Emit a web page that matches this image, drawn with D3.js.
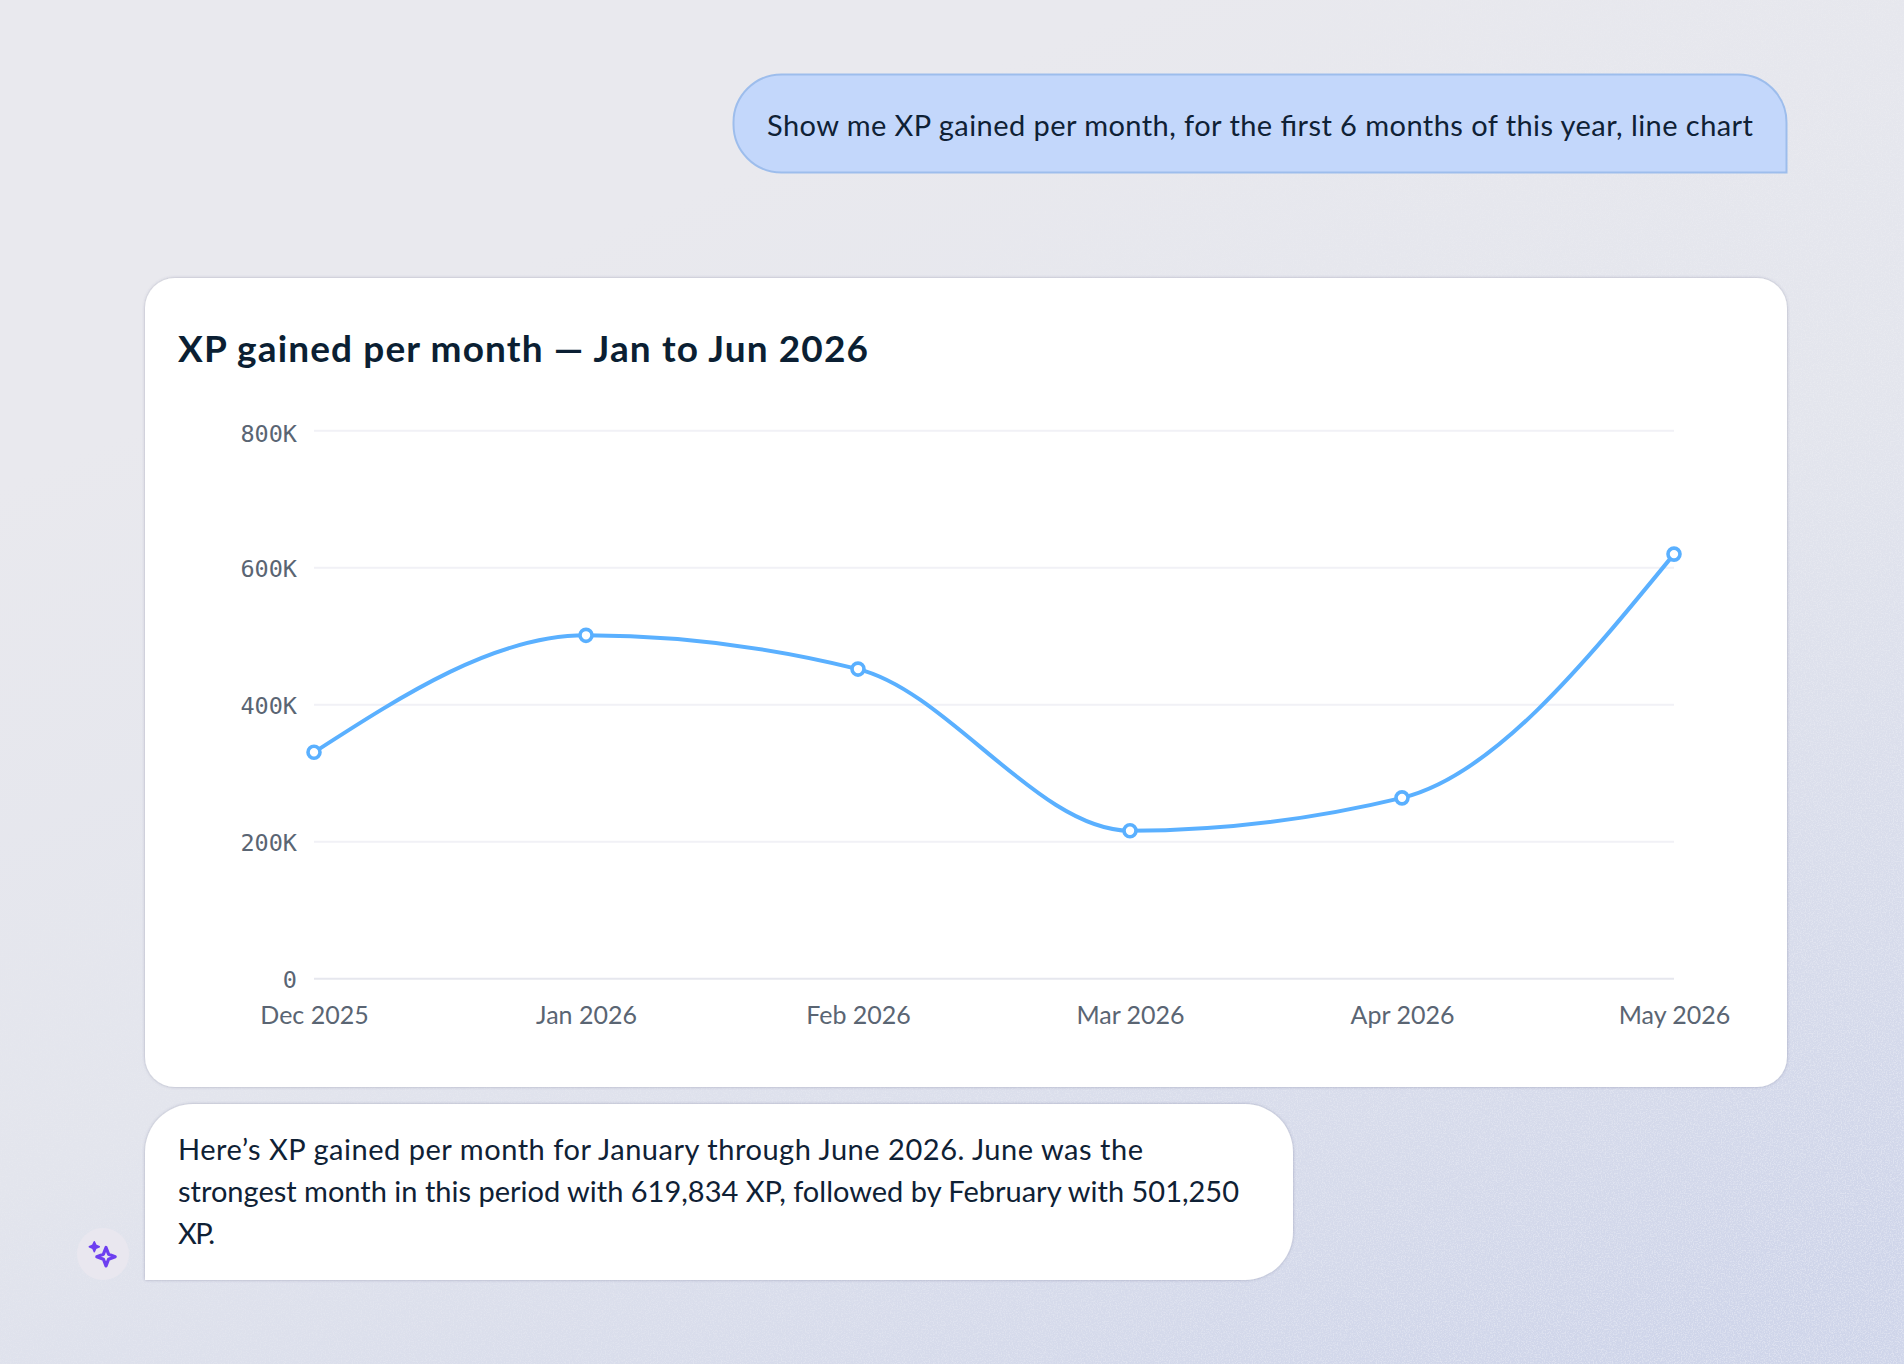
<!DOCTYPE html>
<html>
<head>
<meta charset="utf-8">
<script src="https://cdn.jsdelivr.net/npm/d3@7"></script>
<style>
  html, body { margin: 0; padding: 0; background: #e9e9ee; }
  svg { display: block; }
  .body-text { font-family: "Lato", sans-serif; font-size: 29px; fill: #0f2135; }
  .title { font-family: "Lato", sans-serif; font-size: 37px; font-weight: 700; fill: #0b1f33; }
  .x-axis text { font-family: "Lato", sans-serif; font-size: 25px; fill: #5a6573; }
  .y-axis text { font-family: "DejaVu Sans Mono", monospace; font-size: 23.5px; fill: #5a6573; }
</style>
</head>
<body>
<div id="chart"></div>
<script>
const months = ["Dec 2025", "Jan 2026", "Feb 2026", "Mar 2026", "Apr 2026", "May 2026"];
const xpValues = [330500, 501250, 452000, 216000, 264000, 619834];
const yTicks = [0, 200000, 400000, 600000, 800000];

const question = "Show me XP gained per month, for the first 6 months of this year, line chart";
const chartTitle = "XP gained per month \u2014 Jan to Jun 2026";
const answerLines = [
  "Here\u2019s XP gained per month for January through June 2026. June was the",
  "strongest month in this period with 619,834 XP, followed by February with 501,250",
  "XP."
];
const answerWidths = [965, 1061, 37];

const width = 1904, height = 1364;

const svg = d3.select("#chart").append("svg")
  .attr("width", width)
  .attr("height", height);

const defs = svg.append("defs");
const bg = defs.append("linearGradient").attr("id", "bg")
  .attr("x1", 0.35).attr("y1", 0.15).attr("x2", 0.85).attr("y2", 1);
bg.append("stop").attr("offset", "0%").attr("stop-color", "#e9e9ee");
bg.append("stop").attr("offset", "45%").attr("stop-color", "#e3e5ed");
bg.append("stop").attr("offset", "100%").attr("stop-color", "#cfd5ea");

// grain of the backdrop, stronger towards the bottom right
const grain = defs.append("filter").attr("id", "grain")
  .attr("x", 0).attr("y", 0).attr("width", 1).attr("height", 1);
grain.append("feTurbulence")
  .attr("type", "fractalNoise")
  .attr("baseFrequency", 0.75)
  .attr("numOctaves", 2)
  .attr("seed", 4);
grain.append("feColorMatrix")
  .attr("values", "0 0 0 0 1  0 0 0 0 1  0 0 0 0 1  3.5 0 0 0 -1.5");

const fade = defs.append("linearGradient").attr("id", "fade")
  .attr("x1", 0.2).attr("y1", 0.3).attr("x2", 0.9).attr("y2", 1);
fade.append("stop").attr("offset", "0%").attr("stop-color", "#000");
fade.append("stop").attr("offset", "100%").attr("stop-color", "#fff");
defs.append("mask").attr("id", "grainMask")
  .append("rect").attr("width", width).attr("height", height).attr("fill", "url(#fade)");

const soft = defs.append("filter").attr("id", "soft")
  .attr("x", "-5%").attr("y", "-5%").attr("width", "110%").attr("height", "110%");
soft.append("feDropShadow")
  .attr("dx", 0).attr("dy", 0)
  .attr("stdDeviation", 1.4)
  .attr("flood-color", "#50557a")
  .attr("flood-opacity", 0.4);

svg.append("rect").attr("width", width).attr("height", height).attr("fill", "url(#bg)");
svg.append("g").attr("mask", "url(#grainMask)")
  .append("rect").attr("width", width).attr("height", height)
  .attr("filter", "url(#grain)")
  .attr("opacity", 0.3);

// rounded box where each corner has its own radius
function bubble(x, y, w, h, r) {
  const [tl, tr, br, bl] = r;
  return `M${x + tl},${y}H${x + w - tr}A${tr},${tr} 0 0 1 ${x + w},${y + tr}` +
    `V${y + h - br}A${br},${br} 0 0 1 ${x + w - br},${y + h}` +
    `H${x + bl}A${bl},${bl} 0 0 1 ${x},${y + h - bl}` +
    `V${y + tl}A${tl},${tl} 0 0 1 ${x + tl},${y}Z`;
}

// question bubble
svg.append("path")
  .attr("d", bubble(733.5, 74.5, 1053, 98, [48, 48, 0, 48]))
  .attr("fill", "#c3d7fb")
  .attr("stroke", "#9dbdec")
  .attr("stroke-width", 2);

svg.append("text")
  .attr("class", "body-text")
  .attr("x", 767)
  .attr("y", 135.5)
  .attr("textLength", 986)
  .text(question);

// chart card
svg.append("rect")
  .attr("x", 145).attr("y", 278)
  .attr("width", 1642).attr("height", 809)
  .attr("rx", 30)
  .attr("fill", "#fff")
  .attr("filter", "url(#soft)");

svg.append("text")
  .attr("class", "title")
  .attr("x", 178)
  .attr("y", 362)
  .attr("textLength", 690)
  .text(chartTitle);

const x = d3.scalePoint().domain(months).range([314, 1674]);
const y = d3.scaleLinear().domain([0, 800000]).range([978.7, 430.7]);

svg.append("g")
  .selectAll("line")
  .data(yTicks)
  .join("line")
  .attr("x1", 314)
  .attr("x2", 1674)
  .attr("y1", d => y(d))
  .attr("y2", d => y(d))
  .attr("stroke", d => d === 0 ? "#e6e7ee" : "#f1f1f6")
  .attr("stroke-width", 2);

const yAxis = svg.append("g")
  .attr("class", "y-axis")
  .attr("transform", "translate(314,0)")
  .call(d3.axisLeft(y)
    .tickValues(yTicks)
    .tickSize(0)
    .tickPadding(17)
    .tickFormat(d => d === 0 ? "0" : d / 1000 + "K"));
yAxis.select(".domain").remove();
// top label sits a little lower than its gridline
yAxis.selectAll("text").attr("dy", d => d === 800000 ? 11 : 9.2);

const xAxis = svg.append("g")
  .attr("class", "x-axis")
  .attr("transform", "translate(0,978.7)")
  .call(d3.axisBottom(x).tickSize(0).tickPadding(0));
xAxis.select(".domain").remove();
xAxis.selectAll("text").attr("y", 45).attr("dy", 0);

const line = d3.line()
  .x((d, i) => x(months[i]))
  .y(d => y(d))
  .curve(d3.curveMonotoneX);

svg.append("path")
  .datum(xpValues)
  .attr("d", line)
  .attr("fill", "none")
  .attr("stroke", "#5ab0ff")
  .attr("stroke-width", 4);

svg.append("g")
  .selectAll("circle")
  .data(xpValues)
  .join("circle")
  .attr("cx", (d, i) => x(months[i]))
  .attr("cy", d => y(d))
  .attr("r", 6)
  .attr("fill", "#fff")
  .attr("stroke", "#5ab0ff")
  .attr("stroke-width", 3.6);

// answer bubble
svg.append("path")
  .attr("d", bubble(145, 1104, 1148, 176, [48, 48, 48, 0]))
  .attr("fill", "#fff")
  .attr("filter", "url(#soft)");

svg.append("g")
  .selectAll("text")
  .data(answerLines)
  .join("text")
  .attr("class", "body-text")
  .attr("x", 178)
  .attr("y", (d, i) => 1160 + i * 42)
  .attr("textLength", (d, i) => answerWidths[i])
  .text(d => d);

// sparkle avatar
const avatar = svg.append("g").attr("transform", "translate(103,1254)");
avatar.append("circle").attr("r", 26).attr("fill", "#e9e7ef");

function star(cx, cy, r, inner) {
  let p = "";
  for (let i = 0; i < 4; i++) {
    const a = i * Math.PI / 2, b = a + Math.PI / 4;
    p += (i ? "L" : "M") + (cx + r * Math.cos(a)) + "," + (cy + r * Math.sin(a));
    p += "L" + (cx + inner * Math.cos(b)) + "," + (cy + inner * Math.sin(b));
  }
  return p + "Z";
}
avatar.append("path").attr("d", star(-8.7, -7.3, 5, 2.2))
  .attr("fill", "#6d3ff0")
  .attr("stroke", "#6d3ff0")
  .attr("stroke-width", 1.5)
  .attr("stroke-linejoin", "round");
avatar.append("path").attr("d", star(3, 2.7, 9.2, 3.6))
  .attr("fill", "#e9e7ef")
  .attr("stroke", "#6d3ff0")
  .attr("stroke-width", 3.2)
  .attr("stroke-linejoin", "round");
</script>
</body>
</html>
